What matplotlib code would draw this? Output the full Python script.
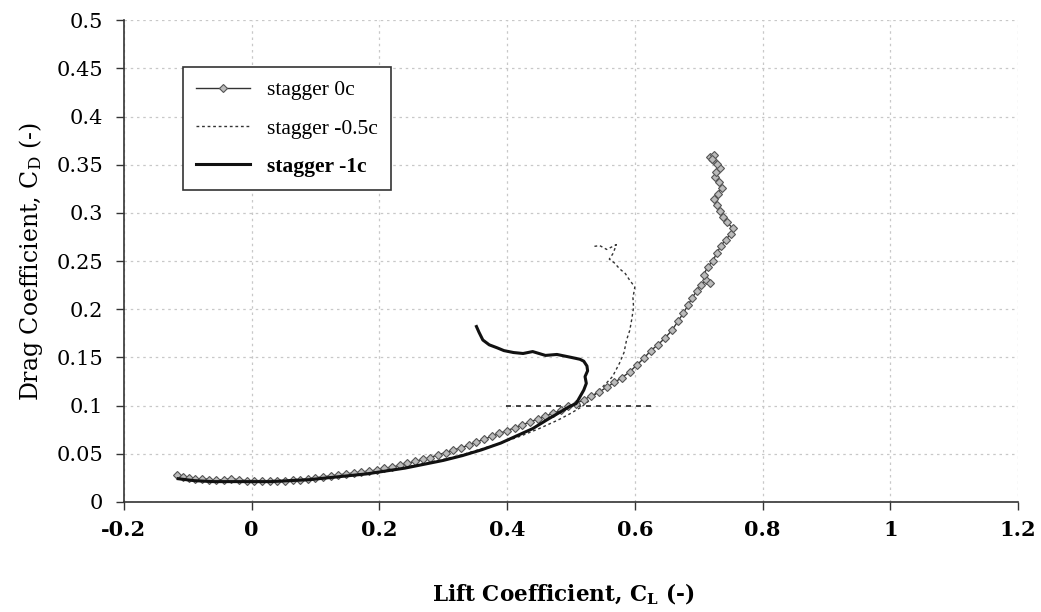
import matplotlib
matplotlib.use("Agg")
import matplotlib.pyplot as plt
import numpy as np

# ---------------- data ----------------
cl_0c = [-0.117, -0.108, -0.098, -0.088, -0.078, -0.066, -0.055, -0.044, -0.032, -0.020,
         -0.008, 0.004, 0.016, 0.028, 0.040, 0.052, 0.064, 0.076, 0.088, 0.100,
         0.112, 0.124, 0.136, 0.148, 0.160, 0.172, 0.184, 0.196, 0.208, 0.220,
         0.232, 0.244, 0.256, 0.268, 0.280, 0.292, 0.304, 0.316, 0.328, 0.340,
         0.352, 0.364, 0.376, 0.388, 0.400, 0.412, 0.424, 0.436, 0.448, 0.460,
         0.472, 0.484, 0.496, 0.508, 0.520, 0.532, 0.544, 0.556, 0.568, 0.580,
         0.592, 0.603, 0.614, 0.625, 0.636, 0.647, 0.658, 0.668, 0.676, 0.683,
         0.690, 0.697, 0.703, 0.712, 0.717, 0.708, 0.714, 0.722, 0.728, 0.735,
         0.742, 0.750, 0.753, 0.745, 0.738, 0.733, 0.728, 0.724, 0.730, 0.736,
         0.731, 0.725, 0.727, 0.733, 0.729, 0.722, 0.718, 0.724, 0.720]
cd_0c = [0.028, 0.026, 0.025, 0.024, 0.024, 0.023, 0.023, 0.023, 0.024, 0.023,
         0.022, 0.022, 0.022, 0.022, 0.022, 0.022, 0.023, 0.023, 0.024, 0.025,
         0.026, 0.027, 0.028, 0.029, 0.030, 0.031, 0.032, 0.033, 0.035, 0.036,
         0.038, 0.040, 0.042, 0.044, 0.046, 0.049, 0.051, 0.054, 0.056, 0.059,
         0.062, 0.065, 0.068, 0.071, 0.074, 0.077, 0.080, 0.083, 0.086, 0.089,
         0.092, 0.095, 0.099, 0.102, 0.106, 0.110, 0.114, 0.119, 0.124, 0.129,
         0.135, 0.142, 0.149, 0.157, 0.163, 0.170, 0.178, 0.188, 0.196, 0.204,
         0.212, 0.219, 0.225, 0.230, 0.227, 0.236, 0.244, 0.250, 0.258, 0.266,
         0.272, 0.278, 0.284, 0.290, 0.296, 0.302, 0.308, 0.314, 0.320, 0.326,
         0.332, 0.337, 0.342, 0.347, 0.351, 0.355, 0.358, 0.360, 0.356]

cl_05c = [-0.115, -0.090, -0.060, -0.030, 0.000, 0.030, 0.060, 0.090, 0.120, 0.150,
          0.180, 0.210, 0.240, 0.270, 0.300, 0.330, 0.360, 0.390, 0.420, 0.450,
          0.480, 0.500, 0.515, 0.525, 0.540, 0.555, 0.565, 0.576, 0.583, 0.587,
          0.592, 0.595, 0.598, 0.597, 0.600, 0.592, 0.585, 0.576, 0.568, 0.560,
          0.566, 0.571, 0.556, 0.545, 0.534]
cd_05c = [0.026, 0.024, 0.023, 0.022, 0.022, 0.022, 0.023, 0.024, 0.026, 0.028,
          0.030, 0.033, 0.036, 0.040, 0.044, 0.049, 0.055, 0.061, 0.068, 0.076,
          0.085, 0.092, 0.098, 0.103, 0.113, 0.123, 0.130, 0.144, 0.155, 0.168,
          0.178, 0.189, 0.202, 0.212, 0.223, 0.230, 0.237, 0.242, 0.248, 0.252,
          0.258, 0.267, 0.262, 0.266, 0.265]

ref_cl = [0.398, 0.626]
ref_cd = [0.100, 0.100]

cl_1c = [-0.115, -0.090, -0.060, -0.030, 0.000, 0.030, 0.060, 0.090, 0.120, 0.150,
         0.180, 0.210, 0.240, 0.270, 0.300, 0.330, 0.360, 0.390, 0.410, 0.440,
         0.462, 0.480, 0.498, 0.508, 0.514, 0.520, 0.524, 0.522, 0.526, 0.525,
         0.520, 0.514, 0.500, 0.478, 0.460, 0.440, 0.425, 0.410, 0.395, 0.384,
         0.372, 0.362, 0.356, 0.352]
cd_1c = [0.024, 0.022, 0.021, 0.021, 0.021, 0.021, 0.022, 0.023, 0.025, 0.027,
         0.029, 0.032, 0.035, 0.039, 0.043, 0.048, 0.054, 0.061, 0.067, 0.076,
         0.085, 0.092, 0.099, 0.102, 0.109, 0.116, 0.123, 0.130, 0.136, 0.141,
         0.146, 0.148, 0.150, 0.153, 0.152, 0.156, 0.154, 0.155, 0.157, 0.160,
         0.163, 0.168, 0.176, 0.182]

labels = ["stagger 0c", "stagger -0.5c", "stagger -1c"]
xticks = [-0.2, 0, 0.2, 0.4, 0.6, 0.8, 1, 1.2]
xticklabels = ["-0.2", "0", "0.2", "0.4", "0.6", "0.8", "1", "1.2"]
yticks = [0, 0.05, 0.1, 0.15, 0.2, 0.25, 0.3, 0.35, 0.4, 0.45, 0.5]
yticklabels = ["0", "0.05", "0.1", "0.15", "0.2", "0.25", "0.3", "0.35", "0.4", "0.45", "0.5"]

# ---------------- plot ----------------
plt.rcParams["font.family"] = ["DejaVu Serif"]
plt.rcParams["mathtext.fontset"] = "dejavuserif"

fig = plt.figure(figsize=(10.41, 6.12), dpi=100)
ax = fig.add_axes([0.119, 0.180, 0.859, 0.787])

ax.plot(cl_0c, cd_0c, color="#333333", lw=1.0, marker="D", ms=4.5,
        mfc="#bbbbbb", mec="#555555", mew=0.8, label=labels[0], zorder=3)
ax.plot(cl_05c, cd_05c, color="#333333", lw=1.0, ls=(0, (2, 2)), label=labels[1], zorder=2)
ax.plot(ref_cl, ref_cd, color="#222222", lw=1.2, ls=(0, (3, 3)), zorder=2)
ax.plot(cl_1c, cd_1c, color="#111111", lw=2.2, label=labels[2], zorder=4)

ax.set_xlim(-0.2, 1.2)
ax.set_ylim(0, 0.5)
ax.set_xticks(xticks)
ax.set_xticklabels(xticklabels, fontsize=15, fontweight="bold")
ax.set_yticks(yticks)
ax.set_yticklabels(yticklabels, fontsize=15)
ax.tick_params(axis="x", direction="out", length=6, width=1, color="#333333", pad=7)
ax.tick_params(axis="y", direction="out", length=6, width=1, color="#333333", pad=9)

ax.grid(True, color="#c8c8c8", ls=(0, (2, 3)), lw=0.9)
ax.set_axisbelow(True)
for s in ["top", "right"]:
    ax.spines[s].set_visible(False)
for s in ["left", "bottom"]:
    ax.spines[s].set_color("#333333")
    ax.spines[s].set_linewidth(1.2)

ax.set_xlabel("Lift Coefficient, C$_\\mathbf{L}$ (-)", fontsize=15.5, fontweight="bold")
ax.xaxis.set_label_coords(0.491, -0.165)
ax.set_ylabel("Drag Coefficient, C$_\\mathrm{D}$ (-)", fontsize=17, labelpad=8)

leg = ax.legend(loc="upper left", bbox_to_anchor=(0.066, 0.9025), borderaxespad=0,
                prop={"family": "Liberation Serif", "size": 15.5},
                frameon=True, fancybox=False, edgecolor="#333333", framealpha=1,
                handlelength=2.5, handletextpad=0.8, borderpad=0.6,
                labelspacing=0.85, markerscale=0.8)
leg.get_frame().set_linewidth(1.2)
leg.get_texts()[2].set_fontweight("bold")

fig.savefig("out.png", dpi=100, facecolor="white")
